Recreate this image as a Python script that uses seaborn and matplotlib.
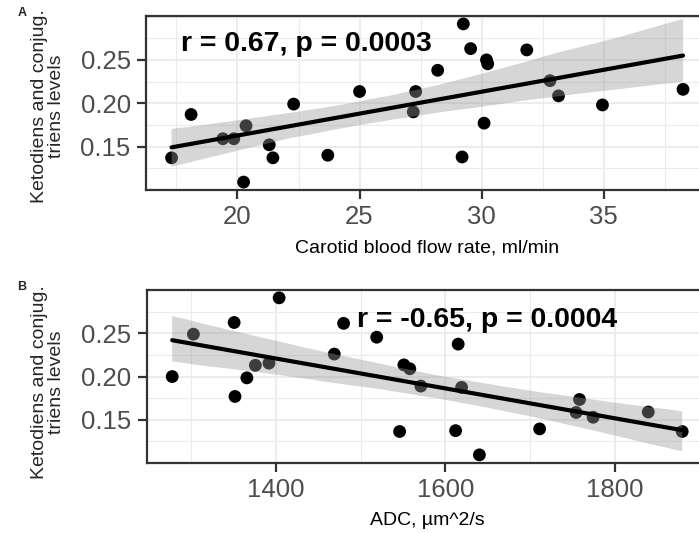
import numpy as np
import pandas as pd
import matplotlib
matplotlib.use("Agg")
import matplotlib.pyplot as plt
import seaborn as sns
from matplotlib.ticker import MultipleLocator

# ---- data ----
flow_rate = [17.3, 18.1, 19.4, 19.85, 20.25, 20.35, 21.3, 21.45, 22.3, 23.7,
             25.0, 27.2, 27.3, 28.2, 29.2, 29.25, 29.55, 30.1, 30.2, 30.25,
             31.85, 32.8, 33.15, 34.95, 38.25]
levels_a = [0.137, 0.187, 0.159, 0.159, 0.109, 0.174, 0.152, 0.137, 0.199, 0.140,
            0.2135, 0.190, 0.2135, 0.238, 0.138, 0.2915, 0.263, 0.177, 0.250, 0.2455,
            0.2615, 0.226, 0.2085, 0.198, 0.216]

adc = [1278, 1303, 1351, 1352, 1366, 1376, 1392, 1404, 1469, 1480,
       1519, 1546, 1551, 1558, 1571, 1612, 1615, 1619, 1640, 1711,
       1754, 1758, 1774, 1839, 1879]
levels_b = [0.200, 0.249, 0.2625, 0.177, 0.1985, 0.213, 0.2155, 0.291, 0.226, 0.2615,
            0.2455, 0.1365, 0.2135, 0.209, 0.189, 0.1375, 0.2375, 0.1875, 0.1095, 0.1395,
            0.1585, 0.1735, 0.153, 0.159, 0.1365]

ylabel = "Ketodiens and conjug.\ntriens levels"
xlabel_a = "Carotid blood flow rate, ml/min"
xlabel_b = "ADC, \u00b5m^2/s"
label_a = "r = 0.67, p = 0.0003"
label_b = "r = -0.65, p = 0.0004"
xticks_a = [20, 25, 30, 35]
xticks_b = [1400, 1600, 1800]
yticks = [0.15, 0.20, 0.25]
ytick_labels = ["0.15", "0.20", "0.25"]

df_a = pd.DataFrame({"x": flow_rate, "y": levels_a})
df_b = pd.DataFrame({"x": adc, "y": levels_b})

sns.set_theme(style="white")
plt.rcParams["font.family"] = ["Liberation Sans", "DejaVu Sans"]

fig = plt.figure(figsize=(6.99, 5.33), dpi=100)
W, H = 699, 533
ax_a = fig.add_axes([146 / W, 1 - 190 / H, (708.6 - 146) / W, 174 / H])
ax_b = fig.add_axes([146.7 / W, 1 - 462.7 / H, (707.7 - 146.7) / W, 172.7 / H])


def expand(vals, f=0.05):
    lo, hi = min(vals), max(vals)
    r = hi - lo
    return lo - f * r, hi + f * r


def draw(ax, df, xticks, xminor, yminor, xlabel, label, lx, ly):
    sns.regplot(data=df, x="x", y="y", ax=ax, ci=95, seed=3, n_boot=2000,
                scatter_kws=dict(s=85, color="black", edgecolor="none", alpha=1),
                line_kws=dict(color="black", lw=3.0))
    # band styling like ggplot (grey60, alpha .4)
    for coll in ax.collections[1:]:
        coll.set_facecolor("#999999")
        coll.set_alpha(0.4)
        coll.set_edgecolor("none")
    ax.set_xlim(*expand(df["x"]))
    ax.set_ylim(*expand(df["y"]))
    ax.set_xticks(xticks)
    ax.set_xticklabels([str(t) for t in xticks])
    ax.set_yticks(yticks)
    ax.set_yticklabels(ytick_labels)
    ax.xaxis.set_minor_locator(MultipleLocator(xminor))
    ax.yaxis.set_minor_locator(MultipleLocator(yminor))
    ax.grid(True, which="major", color="#EBEBEB", lw=1.3)
    ax.grid(True, which="minor", color="#EBEBEB", lw=0.8)
    ax.set_axisbelow(True)
    for s in ax.spines.values():
        s.set_color("#333333")
        s.set_linewidth(1.6)
    ax.tick_params(axis="both", which="major", length=6.5, width=1.6, color="#333333",
                   labelsize=18.5, labelcolor="#4D4D4D", pad=4.5, direction="out",
                   bottom=True, left=True)
    ax.tick_params(axis="both", which="minor", length=0)
    ax.set_xlabel(xlabel, fontsize=14, color="black", labelpad=7)
    ax.set_ylabel("")
    ax.text(lx, ly, label, transform=ax.transAxes, ha="left", va="center",
            fontsize=20.5, fontweight="bold", color="black")


draw(ax_a, df_a, xticks_a, 2.5, 0.025, xlabel_a, label_a, 0.062, 0.838)
draw(ax_b, df_b, xticks_b, 100, 0.025, xlabel_b, label_b, 0.374, 0.828)

fig.text(48 / W, 1 - 106 / H, ylabel, rotation=90, ha="center", va="center",
         fontsize=14, multialignment="center", linespacing=1.05)
fig.text(48 / W, 1 - 382 / H, ylabel, rotation=90, ha="center", va="center",
         fontsize=14, multialignment="center", linespacing=1.05)
fig.text(22 / W, 1 - 13 / H, "A", ha="center", va="center", fontsize=9, fontweight="bold")
fig.text(22 / W, 1 - 287 / H, "B", ha="center", va="center", fontsize=9, fontweight="bold")

fig.savefig("out.png", dpi=100)
